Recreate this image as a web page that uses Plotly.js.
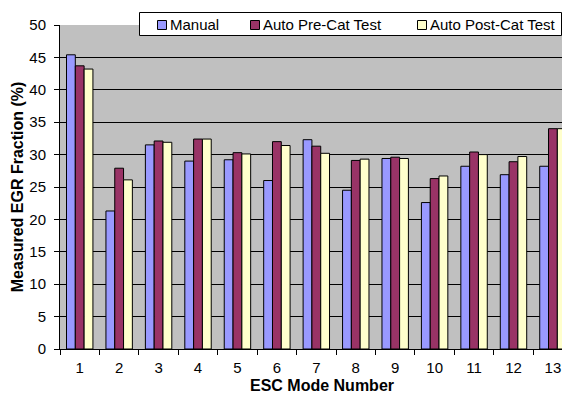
<!DOCTYPE html>
<html><head><meta charset="utf-8">
<script src="https://cdn.plot.ly/plotly-3.0.1.min.js"></script>
<style>html,body{margin:0;padding:0;background:#fff}#c{width:562px;height:395px}</style>
</head><body><div id="c"></div>
<script>
const modes = ["1","2","3","4","5","6","7","8","9","10","11","12","13"];
const manual = [45.4,21.3,31.5,29.0,29.2,26.0,32.3,24.5,29.4,22.6,28.2,26.9,28.2];
const autoPre = [43.7,27.9,32.1,32.4,30.3,32.0,31.3,29.1,29.6,26.3,30.4,28.9,34.0];
const autoPost = [43.2,26.1,31.9,32.4,30.1,31.4,30.2,29.3,29.4,26.7,30.0,29.7,34.0];
const seriesNames = ["Manual","Auto Pre-Cat Test","Auto Post-Cat Test"];
const colors = ["#9999FF","#993366","#FFFFCC"];
const xTitle = "ESC Mode Number";
const yTitle = "Measured EGR Fraction (%)";

const data = [manual, autoPre, autoPost].map((v,i)=>({
  type:'bar', x:modes, y:v, name:seriesNames[i],
  marker:{color:colors[i], line:{color:'#000', width:1}}
}));

// pixel helpers for the custom legend box (plot area 60..562 x 25..349)
const L=60, R=562, T=25, B=349;
const px = p => (p-L)/(R-L);
const py = p => (B-p)/(B-T);
const legSquareX = [157, 250, 417];
const legTextX = [169, 262, 429];
const shapes = [{type:'rect', xref:'paper', yref:'paper', x0:px(139.5), x1:px(561.5), y0:py(35.5), y1:py(12.5),
  fillcolor:'#fff', line:{color:'#000', width:1}, layer:'above'}];
const annotations = [];
seriesNames.forEach((n,i)=>{
  shapes.push({type:'rect', xref:'paper', yref:'paper', x0:px(legSquareX[i]+0.5), x1:px(legSquareX[i]+9.5),
    y0:py(29.5), y1:py(20.5), fillcolor:colors[i], line:{color:'#000', width:1}, layer:'above'});
  annotations.push({xref:'paper', yref:'paper', x:px(legTextX[i]), y:py(24.5), xanchor:'left', yanchor:'middle',
    text:n, showarrow:false, font:{size:15, color:'#000'}, borderpad:0});
});
annotations.push({xref:'paper', yref:'paper', x:px(322), y:py(385), xanchor:'center', yanchor:'middle',
  text:'<b>'+xTitle+'</b>', showarrow:false, font:{size:16, color:'#000'}, borderpad:0});

const layout = {
  width:562, height:395,
  margin:{l:L, r:0, t:T, b:395-B},
  paper_bgcolor:'#fff', plot_bgcolor:'#C0C0C0',
  font:{family:'Liberation Sans, Arial, sans-serif', size:15, color:'#000'},
  barmode:'group', bargap:0.33, bargroupgap:0,
  showlegend:false,
  shapes:shapes, annotations:annotations,
  xaxis:{type:'category', range:[-0.5,12.23], tickson:'boundaries',
    ticks:'outside', ticklen:5, tickcolor:'#000', showline:true, linecolor:'#000', linewidth:1,
    showgrid:false, tickfont:{size:15}, ticklabelstandoff:5},
  yaxis:{range:[0,50], dtick:5, ticks:'outside', ticklen:5, tickcolor:'#000',
    showline:true, linecolor:'#000', linewidth:1, showgrid:true, gridcolor:'#000', gridwidth:1,
    zeroline:false, tickfont:{size:15}, ticklabelstandoff:5,
    title:{text:'<b>'+yTitle+'</b>', font:{size:16}, standoff:1}}
};
Plotly.newPlot('c', data, layout, {staticPlot:true});
</script></body></html>
